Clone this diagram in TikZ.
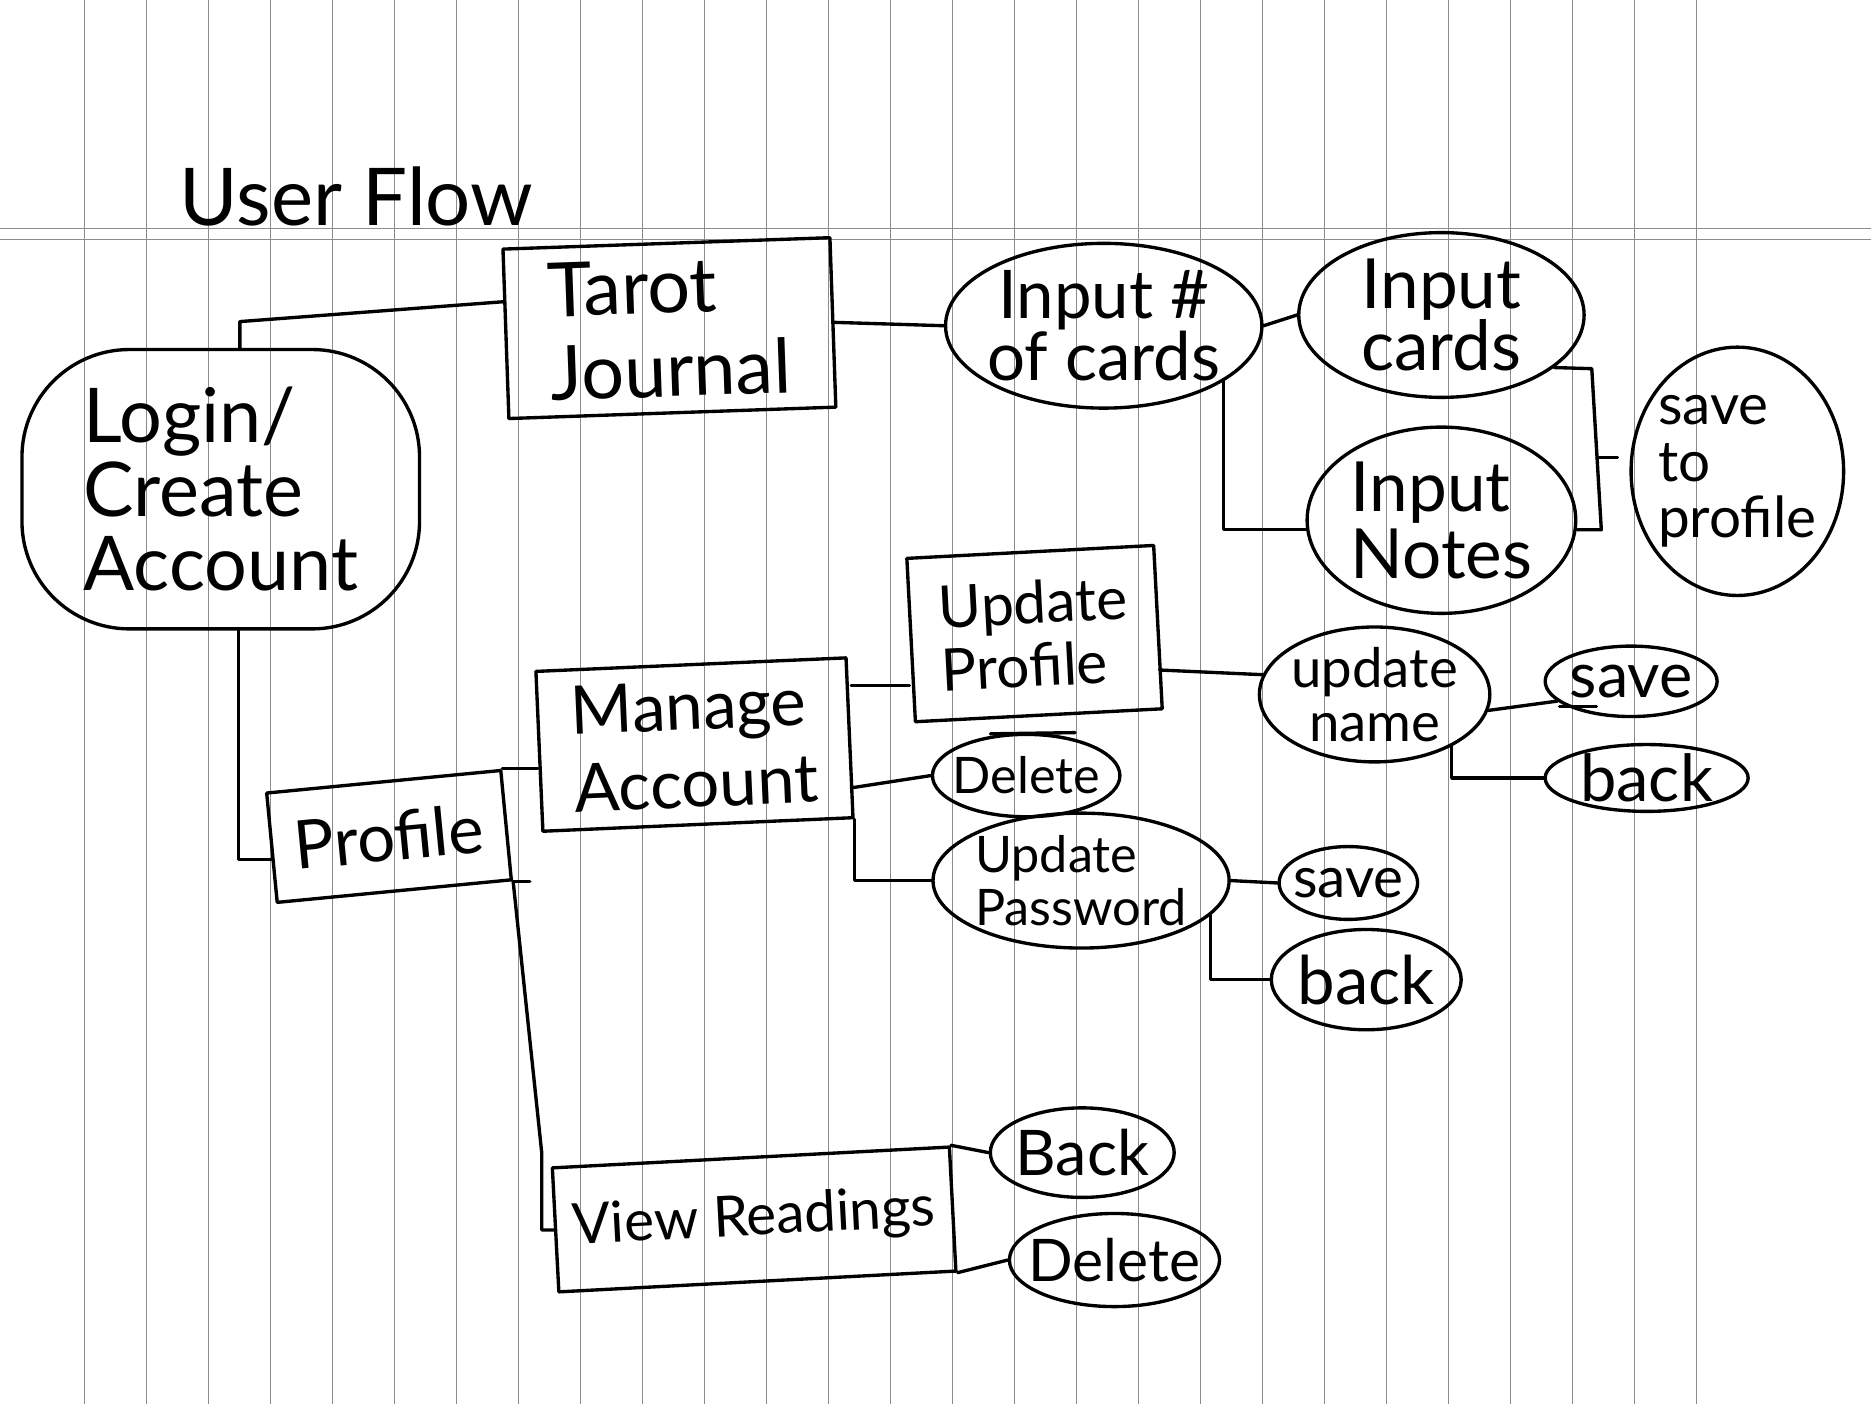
\documentclass[tikz,border=0pt]{standalone}
\usepackage{fontspec}
\setmainfont{Lato}
\usetikzlibrary{shapes.geometric,calc}
\definecolor{gridc}{gray}{0.55}
\begin{document}
\begin{tikzpicture}[x=0.01cm, y=-0.01cm]
\tikzset{
  pen/.style={line width=0.8pt, line cap=round, line join=round},
  boxnode/.style={pen, draw, rectangle, inner sep=0pt},
  ovalnode/.style={pen, draw, ellipse, inner xsep=-1.2cm, inner ysep=-0.7cm},
  wire/.style={pen},
  gridline/.style={draw=gridc, line width=0.3pt},
  fs/.style 2 args={font=\fontsize{#1}{#2}\selectfont},
}
% page
\fill[white] (0,0) rectangle (1568,1177);
\useasboundingbox (0,0) rectangle (1568,1177);
% ruled paper
\foreach \k in {0,...,26}{\draw[gridline] ({71.07+51.96*\k},0) -- ({71.07+51.96*\k},1177);}
\draw[gridline] (0,191.5) -- (1568,191.5);
\draw[gridline] (0,201) -- (1568,201);

% title
\node[anchor=base west, inner sep=0pt, fs={19}{22}] (title) at (150,189) {User Flow};

% nodes
\node[boxnode, rounded corners=0.9cm, minimum width=3.33cm, minimum height=2.34cm, align=left, fs={18}{17.6}] (login) at (185,410) {Login/\\Create\\Account};
\node[boxnode, rotate=2, minimum width=2.74cm, minimum height=1.42cm, align=left, fs={18}{20}] (tarot) at (561,275) {Tarot\\Journal};
\node[ovalnode, minimum width=2.65cm, minimum height=1.38cm, align=center, fs={16}{15}] (inum) at (925,273) {Input \#\\of cards};
\node[ovalnode, minimum width=2.39cm, minimum height=1.38cm, align=center, fs={16.5}{15}] (icards) at (1208,264) {Input\\cards};
\node[ovalnode, minimum width=2.25cm, minimum height=1.56cm, align=left, fs={16.5}{16}] (inotes) at (1208,436) {Input\\Notes};
\node[ovalnode, minimum width=1.78cm, minimum height=2.08cm, align=left, fs={13.5}{13.5}] (sprof) at (1456,395) {save\\to\\profile};

\node[boxnode, rotate=5.5, minimum width=1.97cm, minimum height=0.92cm, fs={16}{18}] (profile) at (326,701) {Profile};
\node[boxnode, rotate=2.5, minimum width=2.60cm, minimum height=1.34cm, align=left, fs={16}{18.5}] (manage) at (582,624) {Manage\\Account};
\node[boxnode, rotate=3, minimum width=2.07cm, minimum height=1.37cm, align=left, fs={14}{15}] (uprof) at (867,531) {Update\\Profile};
\node[ovalnode, minimum width=1.57cm, minimum height=0.69cm, fs={12}{14}] (del1) at (860,650) {Delete};
\node[ovalnode, minimum width=2.48cm, minimum height=1.13cm, align=left, fs={12}{12.5}] (upw) at (906,738) {Update\\Password};
\node[ovalnode, minimum width=1.16cm, minimum height=0.61cm, fs={13.5}{16}] (sv3) at (1130,740) {save};
\node[ovalnode, minimum width=1.59cm, minimum height=0.84cm, fs={16}{18}] (bk3) at (1145,821) {back};
\node[ovalnode, minimum width=1.93cm, minimum height=1.13cm, align=center, fs={13}{13}] (uname) at (1152,582) {update\\name};
\node[ovalnode, minimum width=1.44cm, minimum height=0.59cm, fs={15}{18}] (sv2) at (1367,571) {save};
\node[ovalnode, minimum width=1.70cm, minimum height=0.56cm, fs={15.5}{18}] (bk2) at (1380,652) {back};

\node[boxnode, rotate=3, minimum width=3.33cm, minimum height=1.04cm, fs={13.5}{16}] (vr) at (632,1022) {View Readings};
\node[ovalnode, minimum width=1.54cm, minimum height=0.75cm, fs={15}{17}] (bk4) at (907,966) {Back};
\node[ovalnode, minimum width=1.76cm, minimum height=0.78cm, fs={14}{17}] (del4) at (934,1056) {Delete};

% helper points
\coordinate (brtop) at (1334,309);
\coordinate (brbot) at (1342,444);
\coordinate (brmid) at ($(brtop)!0.55!(brbot)$);
\coordinate (pvbend) at (454,966);
\path ([yshift=0.44cm]manage.east) coordinate (m1);
\path ([yshift=-0.42cm]manage.east) coordinate (m2);

% connectors
\draw[wire] ($(login.north)+(16,0)$) -- ++(0,-22) -- ($(tarot.west)+(0,-27)$);
\draw[wire] (tarot.east) -- (inum.west);
\draw[wire] (inum.east) -- (icards.west);
\draw[wire] (inum.-25) |- ($(inotes.west)+(0,8)$);
\draw[wire] (icards.-25) -- (brtop) -- (brbot) -- (inotes.east |- brbot);
\draw[wire, shorten >=0.1cm] (brmid) -- (brmid -| sprof.west);

\draw[wire] ($(login.south)+(15,0)$) |- ($(profile.west)+(1,10)$);
\draw[wire] (profile.north east) -- (manage.west |- profile.north east);
\draw[wire] (profile.south east) -- (pvbend) |- (vr.west);
\draw[wire] (profile.south east) -- ++(14,0);

\draw[wire] (m1) -- (m1 -| uprof.west);
\draw[wire] (m2) -- (del1.west);
\draw[wire] (manage.south east) |- (upw.west);

\draw[wire] ([yshift=-0.36cm]uprof.east) -- (uname.170);
\draw[wire] (uname.-8) -- (sv2.195);
\draw[wire] (uname.-34) |- (bk2.west);

\draw[wire] (upw.east) -- (sv3.west);
\draw[wire] (upw.-15) |- (bk3.west);

\draw[wire] (vr.north east) -- (bk4.west);
\draw[wire] (vr.south east) -- (del4.west);

% small pen marks
\draw[pen] ([shift={(-30,-35)}]del1.center) -- ++(71,-1);
\draw[pen] ([shift={(-60,21)}]sv2.center) -- ++(31,0);
\end{tikzpicture}
\end{document}
